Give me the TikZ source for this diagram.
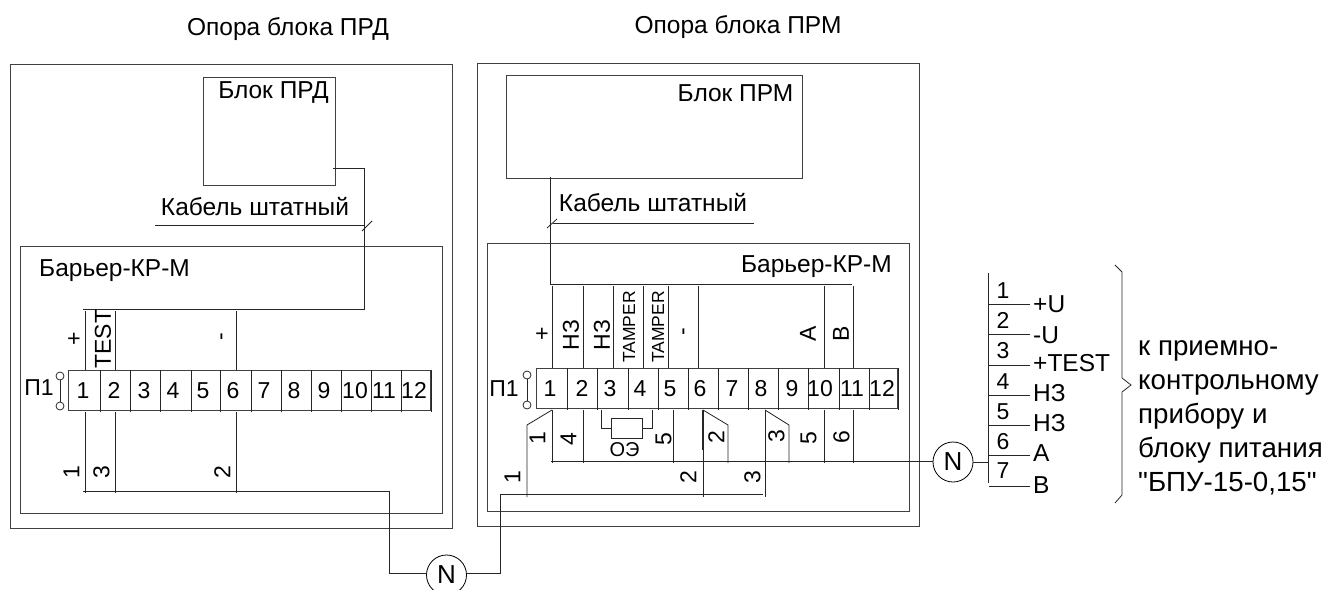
\documentclass[tikz,border=0pt]{standalone}
\usepackage{fontspec}
\setmainfont{Liberation Sans}
\newfontfamily\rawf{Liberation Sans}
\tikzset{
 x=1pt,y=-1pt,
 box/.style={draw=black!75,line width=0.9pt},
 wire/.style={draw=black!85,line width=0.8pt},
 lbl/.style={inner sep=0pt,font=\fontsize{24.5}{24.5}\selectfont,text=black},
 big/.style={inner sep=0pt,font=\fontsize{27.7}{27.7}\selectfont,text=black,anchor=base west},
 sm/.style={inner sep=0pt,font=\fontsize{23}{23}\selectfont,text=black},
 dg/.style={sm,text height=16.5pt,text depth=0pt},
 tnum/.style={sm,anchor=base},
 oel/.style={inner sep=0pt,font=\fontsize{20}{20}\selectfont,text=black,anchor=base},
 tiny/.style={inner sep=0pt,font=\fontsize{17.5}{17.5}\selectfont,text=black},
 ring/.style={circle,draw=black!85,line width=0.8pt,minimum size=8pt,inner sep=0pt},
 nc/.style={circle,draw=black,line width=0.8pt,minimum size=40pt,inner sep=0pt,font=\fontsize{26}{26}\selectfont},
}
\begin{document}
\begin{tikzpicture}
\useasboundingbox (0,0) rectangle (1327,589);
\clip (0,0) rectangle (1327,589);
% titles
\node[lbl] (t1) at (288,29) {Опора блока ПРД};
\node[lbl] (t2) at (738,27) {Опора блока ПРМ};
% left panel
\node[box,minimum width=442pt,minimum height=464pt,inner sep=0pt] (lo) at (231,296) {};
\node[box,minimum width=422pt,minimum height=267pt,inner sep=0pt] (li) at (231,379.5) {};
\node[box,minimum width=132pt,minimum height=108pt,inner sep=0pt] (bl) at (269,131) {};
\node[lbl] (bltxt) at (273.5,93) {Блок ПРД};
\node[lbl] (kl) at (255,207) {Кабель штатный};
\node[lbl,anchor=west] (bar1) at (39,271) {Барьер-КР-М};
% right panel
\node[box,minimum width=442pt,minimum height=463pt,inner sep=0pt] (ro) at (698,294.5) {};
\node[box,minimum width=422pt,minimum height=268pt,inner sep=0pt] (ri) at (698,377) {};
\node[box,minimum width=296pt,minimum height=103pt,inner sep=0pt] (br) at (654,126.5) {};
\node[lbl] (brtxt) at (735.5,93) {Блок ПРМ};
\node[lbl] (kr) at (653,203) {Кабель штатный};
\node[lbl,anchor=east] (bar2) at (892,267) {Барьер-КР-М};
% left cable
\coordinate (a1) at (333,168); \coordinate (a2) at (364,168);
\coordinate (a3) at (364,309); \coordinate (a4) at (83,309);
\draw[wire] (a1)--(a2)--(a3)--(a4);
\coordinate (kl1) at (155,225); \coordinate (kl2) at (364,225);
\draw[wire] (kl1)--(kl2);
\coordinate (tl1) at (362,231); \coordinate (tl2) at (372,221);
\draw[wire] (tl1)--(tl2);
% left terminal
\node[box,minimum width=362pt,minimum height=40pt,inner sep=0pt] (tb1) at (249,390) {};
\draw[wire,line width=1.2pt] (431.5,370)--(431.5,412);
\foreach \x in {100,130,160,191,220,251,281,311,341,371,401}{\draw[wire] (\x,370)--(\x,412);}
\foreach \x/\n in {83/1,114/2,144/3,173/4,203/5,233/6,264/7,294/8,324/9,355/10,384/11,414/12}{\node[tnum] (l\n) at (\x,398) {\n};}
\node[sm] (p1l) at (39,388) {П1};
\node[ring] (r1a) at (60,376) {}; \node[ring] (r1b) at (60,406) {};
\draw[wire] (r1a)--(r1b);
\foreach \x in {85,115,236}{\draw[wire] (\x,311)--(\x,370); \draw[wire] (\x,412)--(\x,493);}
\node[sm,rotate=90] (lp) at (75,339) {+};
\node[sm,rotate=90] (lt) at (103,339) {TEST};
\node[sm,rotate=90] (lm) at (224,337) {-};
\node[dg,rotate=90] (n1) at (71,472) {1};
\node[dg,rotate=90] (n3) at (101,472) {3};
\node[dg,rotate=90] (n2) at (222,472) {2};
% N bottom
\node[nc] (N1) at (446.5,575) {N};
\coordinate (b1) at (83,491); \coordinate (b2) at (389,491); \coordinate (b3) at (389,573);
\draw[wire] (b1)--(b2)--(b3)--(426.5,573);
\coordinate (c1) at (763,494); \coordinate (c2) at (500,494); \coordinate (c3) at (500,573);
\draw[wire] (c1)--(c2)--(c3)--(466.5,573);
% right cable
\coordinate (d1) at (550,177); \coordinate (d2) at (550,284); \coordinate (d3) at (852,284);
\draw[wire] (d1)--(d2)--(d3);
\coordinate (kr1) at (553,223); \coordinate (kr2) at (754,223);
\draw[wire] (kr1)--(kr2);
\coordinate (tr1) at (547,228); \coordinate (tr2) at (557,219);
\draw[wire] (tr1)--(tr2);
% right terminal
\node[box,minimum width=361pt,minimum height=40pt,inner sep=0pt] (tb2) at (716.5,388) {};
\draw[wire,line width=1.2pt] (898.5,368)--(898.5,410);
\foreach \x in {567,597,628,658,688,718,748,778,808,839,869}{\draw[wire] (\x,368)--(\x,410);}
\foreach \x/\n in {550/1,582/2,610/3,640/4,670/5,700/6,732/7,761/8,792/9,820/10,852/11,882/12}{\node[tnum] (q\n) at (\x,396) {\n};}
\node[sm] (p1r) at (504,389) {П1};
\node[ring] (r2a) at (527,375) {}; \node[ring] (r2b) at (527,405) {};
\draw[wire] (r2a)--(r2b);
\foreach \x in {552,583,613,643,668,698,824,853}{\draw[wire] (\x,286)--(\x,368);}
\node[sm,rotate=90] (rp) at (543,334) {+};
\node[sm,rotate=90] (rh1) at (571,335) {НЗ};
\node[sm,rotate=90] (rh2) at (602,335) {НЗ};
\node[tiny,rotate=90] (rt1) at (629,327) {TAMPER};
\node[tiny,rotate=90] (rt2) at (658,327) {TAMPER};
\node[sm,rotate=90] (rm) at (686,332) {-};
\node[sm,rotate=90] (ra) at (808,334) {A};
\node[sm,rotate=90] (rb) at (841,334) {B};
% lower wires right
\coordinate (e) at (551,461);
\node[nc] (N2) at (953,462) {N};
\draw[wire] (e)--(N2.west|-e);
\foreach \x in {552,583,673,824,853}{\draw[wire] (\x,410)--(\x,463);}
\draw[wire] (552,410)--(527,425)--(527,497);
\draw[wire] (703,410)--(728,425)--(728,463);
\draw[wire] (703,410)--(703,497);
\draw[wire,line width=1.2pt] (703,410)--(703,450);
\draw[wire] (765,410)--(789,425)--(789,463);
\draw[wire] (765,410)--(765,497);
\node[draw=black!85,line width=0.8pt,minimum width=31pt,minimum height=20pt,inner sep=0pt] (oe) at (626.5,428) {};
\draw[wire] (601,410)--(601,428)--(oe.west);
\draw[wire] (652,410)--(652,428)--(oe.east);
\node[oel] (oet) at (624.5,456) {ОЭ};
\foreach \x/\y/\n/\k in {537/438/1/a,568/439/4/b,663/439/5/c,716/437/2/d,776/436/3/e,808/438/5/f,841/437/6/g,512/477/1/h,688/477/2/i,752/477/3/j}{\node[dg,rotate=90] (w\k) at (\x,\y) {\n};}
% bundle
\coordinate (f1) at (988,273); \coordinate (f2) at (988,483);
\draw[wire] (f1)--(f2);
\draw[wire] (N2.east)--(988,462);
\foreach \y/\n/\ny in {304/1/290,334/2/320,365/3/350,395/4/381,425/5/411,455/6/441,486/7/470}{
 \draw[wire] (989,\y)--(1030,\y);
 \node[dg] (u\n) at (1003,\ny) {\n};}
\foreach \y/\t/\k in {304/+U/a,335/-U/b,363/+TEST/c,393/НЗ/d,423/НЗ/e,453/A/f,485/B/g}{\node[lbl,anchor=west] (v\k) at (1033,\y) {\t};}
% brace
\coordinate (g1) at (1115,265); \coordinate (g2) at (1122,272); \coordinate (g3) at (1122,378);
\coordinate (g4) at (1131,385); \coordinate (g5) at (1122,392); \coordinate (g6) at (1122,495); \coordinate (g7) at (1115,503);
\draw[wire] (g1)--(g2)--(g3)--(g4)--(g5)--(g6)--(g7);
\node[big] (xa) at (1138,355) {к приемно-};
\node[big] (xb) at (1138,389) {контрольному};
\node[big] (xc) at (1138,423) {прибору и};
\node[big] (xd) at (1138,457) {блоку питания};
\node[big] (xe) at (1138,491) {\rawf "БПУ-15-0,15"};
\end{tikzpicture}
\end{document}
